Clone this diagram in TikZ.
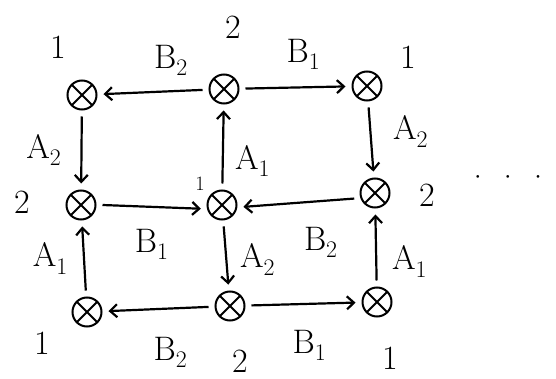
\documentclass[tikz,border=0pt]{standalone}
\usepackage{fontspec}
\usetikzlibrary{arrows.meta}
\newcommand{\lb}[2]{#1\textsubscript{#2}}
\tikzset{
    every edge/.style={draw,-{Straight Barb[length=7pt,width=13pt]},line width=2.2pt},
    tens/.style={circle,draw,line width=2pt,minimum size=29pt,inner sep=0pt,outer sep=7pt,
        path picture={\draw[line width=2pt]
            (path picture bounding box.north west) -- (path picture bounding box.south east)
            (path picture bounding box.south west) -- (path picture bounding box.north east);}},
    lab/.style={font=\fontsize{34}{36}\selectfont,inner sep=3pt},
    wgt/.style={font=\fontsize{34}{36}\selectfont},
}
\begin{document}
\begin{tikzpicture}[x=1pt,y=-1pt]
    \useasboundingbox (0,0) rectangle (556,379);
    % the nine sites
    \node[tens] (tl) at (82,95) {};
    \node[tens] (tc) at (224,89) {};
    \node[tens] (tr) at (367,86) {};
    \node[tens] (ml) at (81,205) {};
    \node[tens] (mc) at (222,205) {};
    \node[tens] (mr) at (375,193) {};
    \node[tens] (bl) at (87,312) {};
    \node[tens] (bc) at (230,306) {};
    \node[tens] (br) at (377,302) {};

    % weights
    \node[wgt] (wtl) at (58,47) {1};
    \node[wgt] (wtc) at (233,27) {2};
    \node[wgt] (wtr) at (408,57) {1};
    \node[wgt] (wml) at (22,202) {2};
    \node[wgt,scale=0.6] (wmc) at (200,184) {1};
    \node[wgt] (wmr) at (427,195) {2};
    \node[wgt] (wbl) at (42,343) {1};
    \node[wgt] (wbc) at (240,361) {2};
    \node[wgt] (wbr) at (390,358) {1};
    \node[wgt] (dots) at (508,182) {·\,·\,·};

    \path
    (tc) edge node[lab,above,xshift=18pt,yshift=12pt] {\lb{B}{2}} (tl)
    (tc) edge node[lab,above,xshift=8pt,yshift=14pt] {\lb{B}{1}} (tr)
    (tl) edge node[lab,left,xshift=-16pt] {\lb{A}{2}} (ml)
    (mc) edge node[lab,right,xshift=8pt,yshift=-14pt] {\lb{A}{1}} (tc)
    (tr) edge node[lab,right,xshift=18pt,yshift=8pt] {\lb{A}{2}} (mr)
    (ml.east) edge node[lab,below,yshift=-18pt] {\lb{B}{1}} (mc.190)
    (mr.195) edge node[lab,below,xshift=22pt,yshift=-20pt] {\lb{B}{2}} (mc.355)
    (mc) edge node[lab,right,xshift=10pt,yshift=-4pt] {\lb{A}{2}} (bc)
    (bl) edge node[lab,left,xshift=-12pt] {\lb{A}{1}} (ml)
    (bc) edge node[lab,below,xshift=12pt,yshift=-24pt] {\lb{B}{2}} (bl)
    (bc) edge node[lab,below,xshift=6pt,yshift=-22pt] {\lb{B}{1}} (br)
    (br) edge node[lab,right,xshift=12pt,yshift=-14pt] {\lb{A}{1}} (mr);
\end{tikzpicture}
\end{document}
